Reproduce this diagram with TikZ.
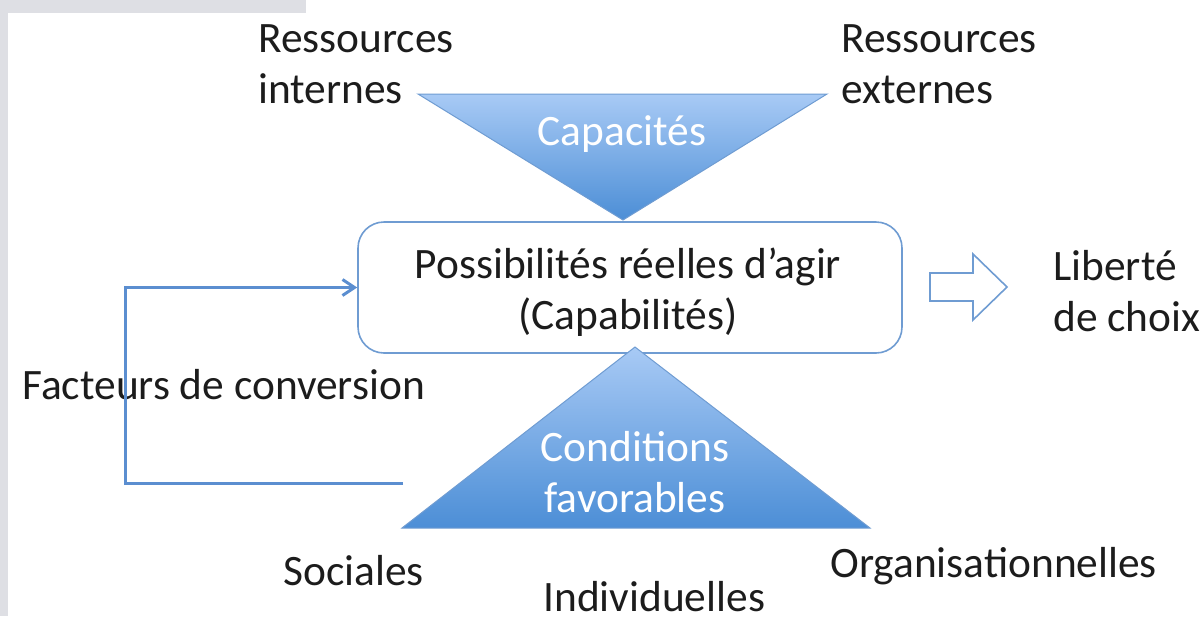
\documentclass[tikz,border=0pt]{standalone}
\usepackage{fontspec}
\setmainfont{Carlito}
\usetikzlibrary{arrows.meta}
\definecolor{txt}{HTML}{1C1C1C}
\definecolor{lightblue}{HTML}{A8CAF5}
\definecolor{darkblue}{HTML}{4C8ED6}
\definecolor{edgeblue}{HTML}{6F9CD2}
\definecolor{linkblue}{HTML}{5B8ED0}
\definecolor{framegray}{HTML}{DEDFE4}
\begin{document}
\begin{tikzpicture}[x=0.5pt,y=-0.5pt,
		every node/.style={font=\fontsize{21.7}{25.5}\selectfont, text=txt, inner sep=0pt},
		label/.style={anchor=base west, align=left},
		inside/.style={text=white, align=center},
		tri/.style={top color=lightblue, bottom color=darkblue, draw=edgeblue, line width=0.5pt},
		conn/.style={draw=linkblue, line width=1.5pt, -{Straight Barb[length=6pt,width=8pt]}}]
		\useasboundingbox (0,0) rectangle (1204,616);
		\fill[framegray] (0,0) rectangle (306,13);
		\fill[framegray] (0,0) rectangle (8,616);
		% central box
		\node[draw=edgeblue, line width=0.8pt, rounded corners=13pt, minimum width=272pt, minimum height=65.5pt] (box) at (630,287.5) {};
		\node[align=center, anchor=base] (poss) at (628,329) {Possibilités réelles d’agir\\(Capabilités)};
		% triangles
		\shade[tri] (418,94) -- (827,94) -- (623,220) -- cycle;
		\shade[tri] (635,347) -- (870,528) -- (402,528) -- cycle;
		\node[inside, anchor=base] (capa) at (622,145) {Capacités};
		\node[inside, anchor=base] (cond) at (635,512) {Conditions\\favorables};
		% labels
		\node[label] (resint) at (258,103) {Ressources\\internes};
		\node[label] (resext) at (841,103) {Ressources\\externes};
		\node[label] (fact) at (22,399) {Facteurs de conversion};
		\node[label] (soc) at (283,585) {Sociales};
		\node[label] (indiv) at (543,611) {Individuelles};
		\node[label] (orga) at (830,577) {Organisationnelles};
		\node[label] (lib) at (1053,331) {Liberté\\de choix};
		% arrows
		\draw[edgeblue, line width=0.8pt, fill=white] (930,273) -- (973,273) -- (973,254) -- (1007,287) -- (973,320) -- (973,301) -- (930,301) -- cycle;
		\coordinate (fc) at (403,483);
		\coordinate (corner) at (125,483);
		\draw[conn] (fc) -- (corner) |- (box.west);
	\end{tikzpicture}
\end{document}
